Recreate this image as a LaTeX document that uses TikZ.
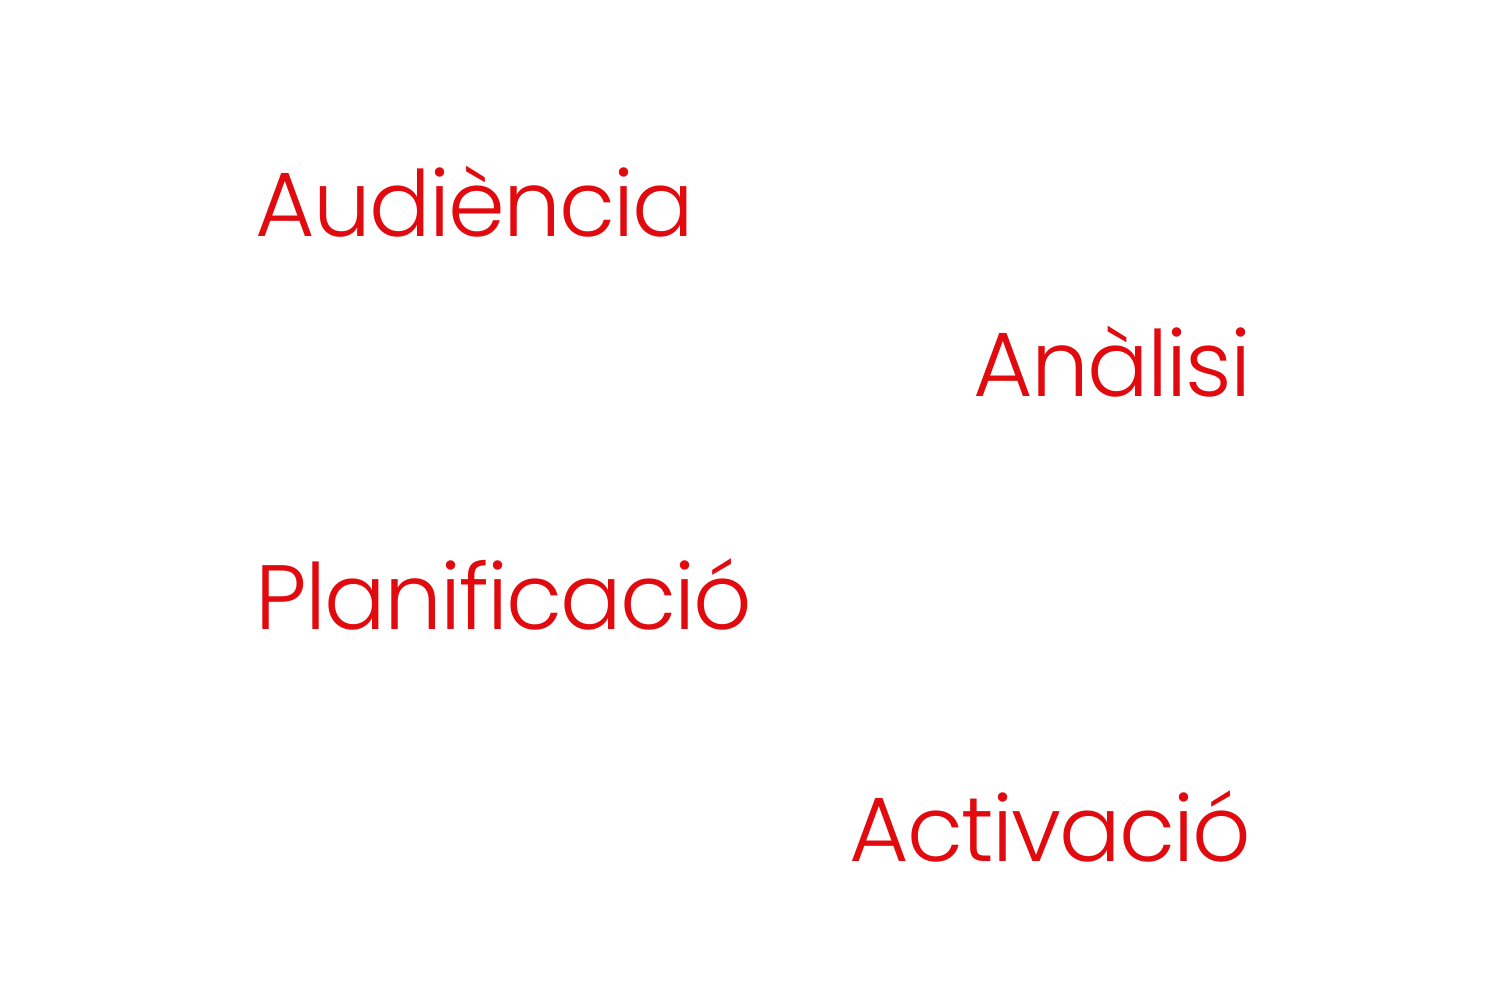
\documentclass[tikz,border=0pt]{standalone}
\usepackage{fontspec}
\setmainfont{Poppins}[UprightFont=* Light, LetterSpace=-2]
\usepackage{tikz}
\definecolor{vermell}{HTML}{E10A0F}
\tikzset{paraula/.style={text=vermell, inner sep=0pt, font=\fontsize{26}{31}\selectfont}}
\begin{document}
\begin{tikzpicture}
			\useasboundingbox (0, 0) rectangle (15, 10);
			\node[paraula, anchor=base west] (audiencia) at (2.55, 7.63) {Audiència};
			\node[paraula, anchor=base east] (analisi) at (12.52, 6.03) {Anàlisi};
			\node[paraula, anchor=base west] (planificacio) at (2.55, 3.70) {Planificació};
			\node[paraula, anchor=base east] (activacio) at (12.52, 1.38) {Activació};
		\end{tikzpicture}
\end{document}
